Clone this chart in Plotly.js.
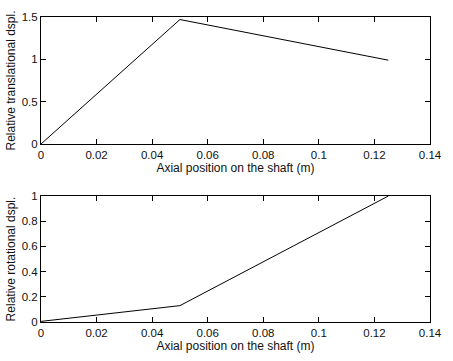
<!DOCTYPE html>
<html><head><meta charset="utf-8">
<script src="https://cdn.plot.ly/plotly-3.0.1.min.js"></script>
<style>html,body{margin:0;padding:0;background:#fff}</style>
</head><body>
<div id="chart" style="width:453px;height:361px"></div>
<script>
const xPos = [0, 0.05, 0.125];
const transDispl = [0, 1.47, 0.99];
const rotDispl = [0.005, 0.13, 1.0];
const xTicks = [0, 0.02, 0.04, 0.06, 0.08, 0.1, 0.12, 0.14];
const xTickText = ['0', '0.02', '0.04', '0.06', '0.08', '0.1', '0.12', '0.14'];
const yTicksTop = [0, 0.5, 1, 1.5];
const yTickTextTop = ['0', '0.5', '1', '1.5'];
const yTicksBot = [0, 0.2, 0.4, 0.6, 0.8, 1];
const yTickTextBot = ['0', '0.2', '0.4', '0.6', '0.8', '1'];
const xTitle = 'Axial position on the shaft (m)';
const yTitleTop = 'Relative translational dspl.';
const yTitleBot = 'Relative rotational dspl.';

const font = {family: 'Liberation Sans, Arial, sans-serif', size: 11.5, color: '#111'};
const titleFont = {family: 'Liberation Sans, Arial, sans-serif', size: 12, color: '#111'};
const axisBase = {
  showline: true, linecolor: '#000', linewidth: 1, mirror: 'ticks',
  ticks: 'inside', ticklen: 5, tickcolor: '#000', showgrid: false, zeroline: false,
  tickfont: font
};
const traces = [
  {x: xPos, y: transDispl, type: 'scatter', mode: 'lines', line: {color: '#000', width: 1}, xaxis: 'x', yaxis: 'y', showlegend: false},
  {x: xPos, y: rotDispl, type: 'scatter', mode: 'lines', line: {color: '#000', width: 1}, xaxis: 'x2', yaxis: 'y2', showlegend: false}
];
const layout = {
  width: 453, height: 361,
  margin: {l: 41, r: 23, t: 17, b: 39},
  paper_bgcolor: '#fff', plot_bgcolor: '#fff',
  font: font,
  xaxis: Object.assign({}, axisBase, {domain: [0, 1], anchor: 'y', range: [0, 0.14], tickvals: xTicks, ticktext: xTickText,
    title: {text: xTitle, font: titleFont, standoff: 2}}),
  yaxis: Object.assign({}, axisBase, {domain: [0.5836, 1], anchor: 'x', range: [0, 1.5], tickvals: yTicksTop, ticktext: yTickTextTop,
    title: {text: yTitleTop, font: titleFont, standoff: 3}}),
  xaxis2: Object.assign({}, axisBase, {domain: [0, 1], anchor: 'y2', range: [0, 0.14], tickvals: xTicks, ticktext: xTickText,
    title: {text: xTitle, font: titleFont, standoff: 2}}),
  yaxis2: Object.assign({}, axisBase, {domain: [0, 0.413], anchor: 'x2', range: [0, 1], tickvals: yTicksBot, ticktext: yTickTextBot,
    title: {text: yTitleBot, font: titleFont, standoff: 3}})
};
Plotly.newPlot('chart', traces, layout, {displayModeBar: false, staticPlot: true});
</script>
</body></html>
